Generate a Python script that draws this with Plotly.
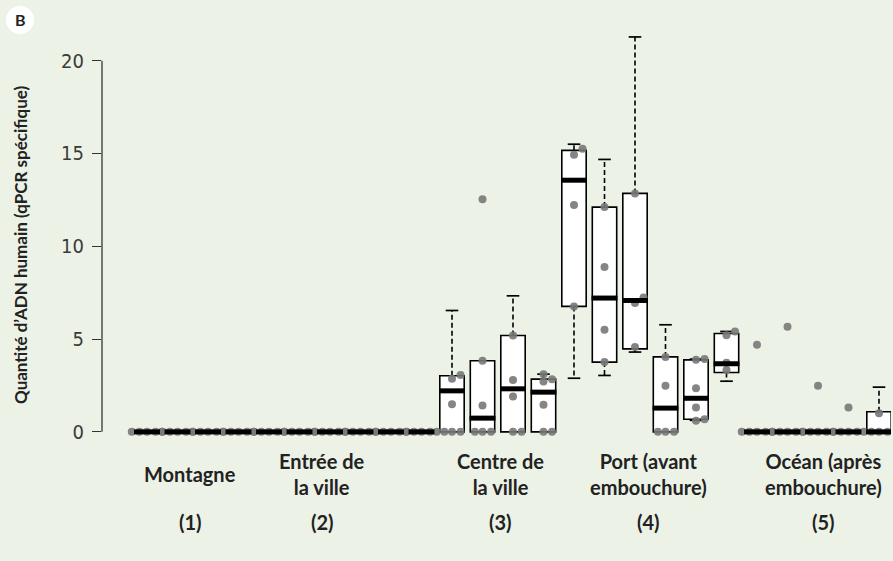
import plotly.graph_objects as go

# ---- data (one entry per box, left to right) ----
q1 = [0]*10 + [0, 0, 0, 0, 6.76, 3.76, 4.47, 0, 0.68, 3.20] + [0, 0, 0, 0, 0]
med = [0]*10 + [2.21, 0.74, 2.32, 2.14, 13.56, 7.21, 7.08, 1.28, 1.81, 3.67] + [0, 0, 0, 0, 0]
q3 = [0]*10 + [3.02, 3.83, 5.19, 2.84, 15.17, 12.11, 12.85, 4.04, 3.88, 5.30] + [0, 0, 0, 0, 1.08]
lo = [0]*10 + [0, 0, 0, 0, 2.89, 3.04, 4.30, 0, 0.62, 2.73] + [0, 0, 0, 0, 0]
hi = [0]*10 + [6.54, 3.83, 7.33, 3.11, 15.50, 14.68, 21.28, 5.77, 3.92, 5.41] + [0, 0, 0, 0, 2.41]
points = (
    [[0, 0, 0, 0, 0]]*10 +
    [[0, 0, 0, 1.49, 2.86, 3.07],
     [0, 0, 0, 1.42, 3.83, 12.54],
     [0, 0, 1.90, 2.79, 5.19],
     [0, 0, 1.46, 2.71, 2.84, 3.11],
     [6.76, 12.22, 14.93, 15.26],
     [3.76, 5.50, 8.89, 12.11],
     [4.57, 6.94, 7.24, 12.85],
     [0, 0, 0, 2.48, 4.04],
     [0.60, 0.68, 1.31, 2.35, 3.88, 3.92],
     [3.34, 3.72, 5.21, 5.41],
     [0, 0, 0, 0, 0, 4.70],
     [0, 0, 0, 0, 0, 5.66],
     [0, 0, 0, 0, 0, 2.48],
     [0, 0, 0, 0, 0, 1.31],
     [0, 0, 0, 1.00]]
)
group_names = ["Montagne", "Entrée de<br>la ville", "Centre de<br>la ville",
               "Port (avant<br>embouchure)", "Océan (après<br>embouchure)"]
group_numbers = ["(1)", "(2)", "(3)", "(4)", "(5)"]
y_ticks = [0, 5, 10, 15, 20]
y_title = "Quantité d’ADN humain (qPCR spécifique)"

# ---- geometry ----
W, H = 893, 561
ML, MR, MT, MB = 102, 2, 31, 118
pw, ph = W - ML - MR, H - MT - MB
pos = list(range(len(med)))
BOXW = 0.8

def px2paper_x(px):
    return (px - ML) / pw

def py2paper_y(py):
    return (H - MB - py) / ph

# stacked offsets for tied points
tie_offsets = [0, 0.28, -0.25, 0.5, -0.5, 0.14, -0.38]
px_pts, py_pts = [], []
for i, vals in enumerate(points):
    s = sorted(vals)
    clusters = []
    for v in s:
        if clusters and abs(v - clusters[-1][0]) < 0.35:
            clusters[-1].append(v)
        else:
            clusters.append([v])
    for c in clusters:
        for k, v in enumerate(c):
            px_pts.append(pos[i] + tie_offsets[k % len(tie_offsets)])
            py_pts.append(v)

fig = go.Figure()

# boxes (white, no whiskers)
fig.add_trace(go.Box(
    x=pos, q1=q1, median=med, q3=q3, lowerfence=q1, upperfence=q3,
    width=BOXW, fillcolor="white", line=dict(color="black", width=1.6),
    whiskerwidth=0, boxpoints=False, hoverinfo="skip", showlegend=False))

# dashed whiskers
wx, wy, cx, cy = [], [], [], []
for i in pos:
    if hi[i] > q3[i]:
        wx += [pos[i], pos[i], None]
        wy += [q3[i], hi[i], None]
        cx.append(pos[i]); cy.append(hi[i])
    if lo[i] < q1[i]:
        wx += [pos[i], pos[i], None]
        wy += [q1[i], lo[i], None]
        cx.append(pos[i]); cy.append(lo[i])
fig.add_trace(go.Scatter(x=wx, y=wy, mode="lines",
                         line=dict(color="black", width=1.6, dash="5px,3px"),
                         hoverinfo="skip", showlegend=False))
fig.add_trace(go.Scatter(x=cx, y=cy, mode="markers",
                         marker=dict(symbol="line-ew", size=9,
                                     line=dict(color="black", width=1.7)),
                         hoverinfo="skip", showlegend=False))

# points
fig.add_trace(go.Scatter(x=px_pts, y=py_pts, mode="markers",
                         marker=dict(color="rgba(120,120,120,0.9)", size=8),
                         hoverinfo="skip", showlegend=False))

# thick medians (line-ew marker length is 1.4 x size)
fig.add_trace(go.Scatter(x=pos, y=med, mode="markers",
                         marker=dict(symbol="line-ew", size=18.5,
                                     line=dict(color="black", width=5)),
                         hoverinfo="skip", showlegend=False))

x_range = [-(147 - ML) / 30.5, (W - MR - 147) / 30.5]
fig.update_layout(
    width=W, height=H,
    margin=dict(l=ML, r=MR, t=MT, b=MB),
    paper_bgcolor="#EDF2E6", plot_bgcolor="#EDF2E6",
    xaxis=dict(range=x_range, showgrid=False, zeroline=False, showline=False,
               showticklabels=False, ticks=""),
    yaxis=dict(range=[-0.6, 21.6], showgrid=False, zeroline=False, showline=False,
               tickvals=y_ticks, ticks="outside", ticklen=9, tickwidth=1.3,
               tickcolor="#333", ticklabelstandoff=4,
               tickfont=dict(family="Liberation Sans Narrow, DejaVu Sans Condensed, Roboto",
                             size=20, color="#3a3a3a")),
)

# y axis line from 0 to 20
fig.add_shape(type="line", xref="paper", yref="y", x0=0, x1=0,
              y0=y_ticks[0], y1=y_ticks[-1], line=dict(color="#333", width=1.3))

# y title
fig.add_annotation(text="<b>" + y_title + "</b>", xref="paper", yref="paper",
                   x=px2paper_x(20), y=py2paper_y(245), textangle=-90,
                   showarrow=False, xanchor="center", yanchor="middle",
                   font=dict(family="Lato", size=17, color="#222"))

# badge B
fig.add_shape(type="circle", xref="paper", yref="paper",
              x0=px2paper_x(6), x1=px2paper_x(34), y0=py2paper_y(34), y1=py2paper_y(6),
              fillcolor="white", line=dict(width=0))
fig.add_annotation(text="<b>B</b>", xref="paper", yref="paper",
                   x=px2paper_x(20), y=py2paper_y(20), showarrow=False,
                   xanchor="center", yanchor="middle",
                   font=dict(family="Lato", size=16, color="#222"))

# group labels
label_px = [190, 322, 500, 648, 823]
for name, num, lx in zip(group_names, group_numbers, label_px):
    xd = (lx - 147) / 30.5
    fig.add_annotation(text="<b>" + name + "</b>", xref="x", yref="paper",
                       x=xd, y=py2paper_y(474), showarrow=False,
                       xanchor="center", yanchor="middle",
                       font=dict(family="Lato", size=20, color="#222"))
    fig.add_annotation(text="<b>" + num + "</b>", xref="x", yref="paper",
                       x=xd, y=py2paper_y(522), showarrow=False,
                       xanchor="center", yanchor="middle",
                       font=dict(family="Lato", size=20, color="#222"))

fig.write_html("out.html", config={"displayModeBar": False},
               post_script="document.body.style.margin='0';")
